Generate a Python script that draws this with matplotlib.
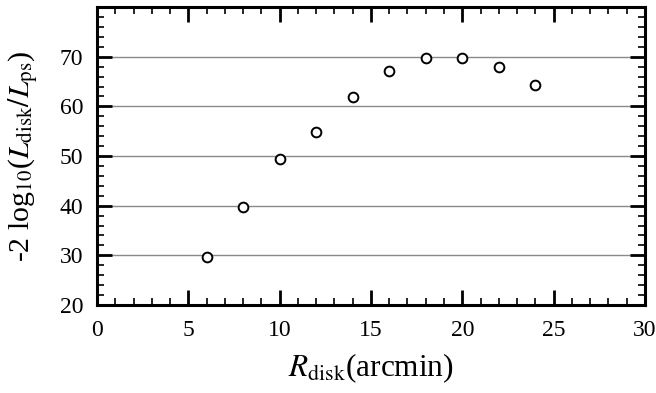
import numpy as np
import matplotlib
matplotlib.use('Agg')
from matplotlib import pyplot as plt
from matplotlib.ticker import MultipleLocator

# Values
r_disk = [6, 8, 10, 12, 14, 16, 18, 20, 22, 24]
loglike = [29.7, 39.8, 49.3, 54.9, 61.9, 67.1, 69.7, 69.8, 67.9, 64.4]
grid_levels = [30, 40, 50, 60, 70]

plt.rcParams['font.family'] = ['Liberation Serif', 'DejaVu Serif']
plt.rcParams['mathtext.fontset'] = 'stix'

fig = plt.figure(figsize=(6.56, 3.93), dpi=100)
ax = fig.add_axes([0.148, 0.224, 0.835, 0.758])

for g in grid_levels:
    ax.axhline(g, color='#8a8a8a', lw=1.0, zorder=1)

ax.plot(r_disk, loglike, 'o', ms=7, mfc='white', mec='black', mew=1.4, zorder=3)

ax.set_xlim(0, 30)
ax.set_ylim(20, 80)
ax.set_xticks([0, 5, 10, 15, 20, 25, 30])
ax.set_yticks([20, 30, 40, 50, 60, 70])
ax.xaxis.set_minor_locator(MultipleLocator(1))
ax.yaxis.set_minor_locator(MultipleLocator(2))
ax.tick_params(which='both', direction='in', top=True, right=True, labelsize=17)
ax.tick_params(which='major', length=11, width=2)
ax.tick_params(which='minor', length=5, width=1.2)
ax.tick_params(axis='x', pad=11)
ax.tick_params(axis='y', pad=10)
for s in ax.spines.values():
    s.set_linewidth(2.2)

ax.set_xlabel(r'$R_{\rm disk}$(arcmin)', fontsize=22.5, labelpad=7)
ax.set_ylabel(r'-2 log$_{10}$($L_{\rm disk}/L_{\rm ps}$)', fontsize=21.5, labelpad=14)

fig.savefig('out.png', dpi=100)
